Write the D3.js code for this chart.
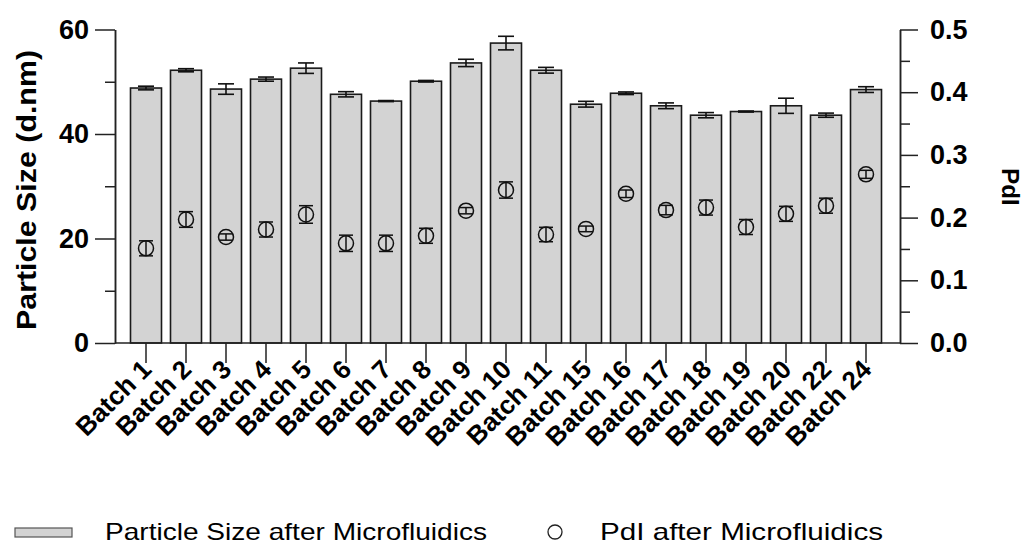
<!DOCTYPE html>
<html>
<head>
<meta charset="utf-8">
<script src="https://cdn.jsdelivr.net/npm/d3@7"></script>
<style>
  html, body { margin: 0; padding: 0; background: #fff; }
  svg { display: block; font-family: "Liberation Sans", Arial, sans-serif; }
</style>
</head>
<body>
<svg id="chart" width="1026" height="546"></svg>
<script>
const categories = ["Batch 1","Batch 2","Batch 3","Batch 4","Batch 5","Batch 6","Batch 7","Batch 8","Batch 9","Batch 10","Batch 11","Batch 15","Batch 16","Batch 17","Batch 18","Batch 19","Batch 20","Batch 22","Batch 24"];
const sizeMean = [48.8,52.2,48.6,50.5,52.6,47.6,46.3,50.1,53.6,57.4,52.2,45.7,47.8,45.4,43.6,44.3,45.4,43.6,48.5];
const sizeErr  = [0.35,0.3,1.0,0.4,1.0,0.5,0.1,0.15,0.7,1.3,0.55,0.55,0.25,0.55,0.5,0.1,1.45,0.4,0.55];
const pdiMean  = [0.151,0.197,0.169,0.181,0.205,0.159,0.159,0.171,0.211,0.244,0.173,0.182,0.238,0.212,0.216,0.185,0.206,0.219,0.269];
const pdiErr   = [0.012,0.0125,0.005,0.012,0.014,0.013,0.013,0.012,0.005,0.013,0.0115,0.0045,0.006,0.0075,0.012,0.012,0.012,0.012,0.0064];
const leftTicks = [0,20,40,60];
const leftMinor = [10,30,50];
const rightTicks = [0,0.1,0.2,0.3,0.4,0.5];
const rightMinor = [0.05,0.15,0.25,0.35,0.45];
const legendLabels = ["Particle Size after Microfluidics","PdI after Microfluidics"];

const svg = d3.select("#chart");
const axL = 115, axR = 900, y0 = 343, yTop = 29.5;

const x = d3.scaleBand().domain(categories).range([126, 886]).paddingInner(0.225).paddingOuter(0.1125);
const yL = d3.scaleLinear().domain([0,60]).range([y0, yTop]);
const yR = d3.scaleLinear().domain([0,0.5]).range([y0, yTop]);

const data = categories.map((c,i) => ({c, s: sizeMean[i], se: sizeErr[i], p: pdiMean[i], pe: pdiErr[i]}));

// bars
svg.append("g").selectAll("rect").data(data).join("rect")
  .attr("x", d => x(d.c)).attr("width", x.bandwidth())
  .attr("y", d => yL(d.s)).attr("height", d => yL(0) - yL(d.s))
  .attr("fill", "#d3d3d3").attr("stroke", "#1a1a1a").attr("stroke-width", 1.6);

// bar error bars
const cap = 8;
const eb = svg.append("g").attr("stroke", "#111").attr("stroke-width", 1.6).attr("fill", "none");
data.forEach(d => {
  const cx = x(d.c) + x.bandwidth()/2;
  const a = yL(d.s + d.se), b = yL(d.s - d.se);
  eb.append("line").attr("x1", cx).attr("x2", cx).attr("y1", a).attr("y2", b);
  eb.append("line").attr("x1", cx-cap).attr("x2", cx+cap).attr("y1", a).attr("y2", a);
  eb.append("line").attr("x1", cx-cap).attr("x2", cx+cap).attr("y1", b).attr("y2", b);
});

// PdI points
const pg = svg.append("g").attr("stroke", "#111").attr("stroke-width", 1.5).attr("fill", "none");
data.forEach(d => {
  const cx = x(d.c) + x.bandwidth()/2;
  const a = yR(d.p + d.pe), b = yR(d.p - d.pe);
  pg.append("circle").attr("cx", cx).attr("cy", yR(d.p)).attr("r", 7.5);
  pg.append("line").attr("x1", cx).attr("x2", cx).attr("y1", a).attr("y2", b);
  pg.append("line").attr("x1", cx-7).attr("x2", cx+7).attr("y1", a).attr("y2", a);
  pg.append("line").attr("x1", cx-7).attr("x2", cx+7).attr("y1", b).attr("y2", b);
});

function styleAxis(g) {
  g.selectAll("path,line").attr("stroke", "#222").attr("stroke-width", 1.5);
  g.selectAll("text").attr("fill", "#000").attr("font-weight", "bold").attr("font-size", 27)
    .attr("font-family", "'Liberation Sans', Arial, sans-serif");
}

// left axis
svg.append("g").attr("transform", `translate(${axL},0)`)
  .call(d3.axisLeft(yL).tickValues(leftTicks).tickSize(20).tickSizeOuter(0).tickPadding(6).tickFormat(d3.format("d")))
  .call(styleAxis);
svg.append("g").attr("transform", `translate(${axL},0)`)
  .call(d3.axisLeft(yL).tickValues(leftMinor).tickSize(10).tickSizeOuter(0).tickFormat(""))
  .call(styleAxis);

// right axis
svg.append("g").attr("transform", `translate(${axR},0)`)
  .call(d3.axisRight(yR).tickValues(rightTicks).tickSize(18).tickSizeOuter(0).tickPadding(12).tickFormat(d3.format(".1f")))
  .call(styleAxis);
svg.append("g").attr("transform", `translate(${axR},0)`)
  .call(d3.axisRight(yR).tickValues(rightMinor).tickSize(10).tickSizeOuter(0).tickFormat(""))
  .call(styleAxis);

// bottom axis
const xa = svg.append("g").attr("transform", `translate(0,${y0})`)
  .call(d3.axisBottom(x).tickSize(20).tickSizeOuter(0).tickFormat(""))
  .call(styleAxis);
xa.select(".domain").remove();
svg.append("line").attr("x1", axL).attr("x2", axR).attr("y1", y0).attr("y2", y0)
  .attr("stroke", "#222").attr("stroke-width", 1.5);

// x labels
svg.append("g").selectAll("text").data(categories).join("text")
  .attr("transform", d => `translate(${x(d) + x.bandwidth()/2 + 7},371) rotate(-45)`)
  .attr("text-anchor", "end").attr("font-weight", "bold").attr("font-size", 26)
  .text(d => d);

// axis titles
svg.append("text").attr("transform", "translate(36,190) rotate(-90)")
  .attr("text-anchor", "middle").attr("font-weight", "bold").attr("font-size", 28)
  .attr("textLength", 280).attr("lengthAdjust", "spacingAndGlyphs")
  .text("Particle Size (d.nm)");
svg.append("text").attr("transform", "translate(1002,187) rotate(90)")
  .attr("text-anchor", "middle").attr("font-weight", "bold").attr("font-size", 24)
  .text("PdI");

// legend
const lg = svg.append("g");
lg.append("rect").attr("x", 15).attr("y", 528).attr("width", 57).attr("height", 9)
  .attr("fill", "#d3d3d3").attr("stroke", "#555").attr("stroke-width", 1.2);
lg.append("text").attr("x", 105).attr("y", 540).attr("font-size", 24)
  .attr("textLength", 382).attr("lengthAdjust", "spacingAndGlyphs").text(legendLabels[0]);
lg.append("circle").attr("cx", 555).attr("cy", 532).attr("r", 7)
  .attr("fill", "none").attr("stroke", "#222").attr("stroke-width", 1.3);
lg.append("text").attr("x", 600).attr("y", 540).attr("font-size", 24)
  .attr("textLength", 283).attr("lengthAdjust", "spacingAndGlyphs").text(legendLabels[1]);
</script>
</body>
</html>
